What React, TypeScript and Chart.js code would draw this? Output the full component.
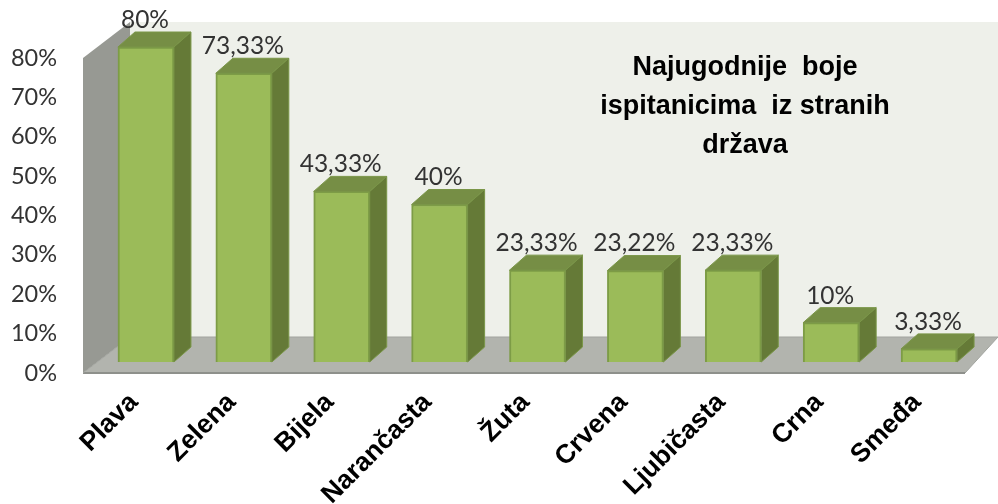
import React, { useEffect, useRef } from "react";
import { Chart, registerables } from "chart.js";

Chart.register(...registerables);

const categories = ["Plava", "Zelena", "Bijela", "Narančasta", "Žuta", "Crvena", "Ljubičasta", "Crna", "Smeđa"];
const values = [80, 73.33, 43.33, 40, 23.33, 23.22, 23.33, 10, 3.33];
const yTicks = [0, 10, 20, 30, 40, 50, 60, 70, 80];
const titleLines = ["Najugodnije  boje", "ispitanicima  iz stranih", "država"];

const chart3d = {
  id: "chart3d",
  beforeDatasetsDraw(chart: any) {
    const { ctx, chartArea, scales } = chart;
    const y0 = scales.y.getPixelForValue(0);
    const yMax = scales.y.getPixelForValue(80);
    const frontL = chartArea.left - 14;
    const backL = frontL + 47;
    const frontB = y0 + 11;
    const backB = frontB - 36;
    const frontT = yMax + 11;
    const backT = frontT - 36;
    const W = chart.width;
    const frontR = 965;
    const poly = (pts: number[][], fill: any) => {
      ctx.beginPath();
      pts.forEach((p, i) => (i ? ctx.lineTo(p[0], p[1]) : ctx.moveTo(p[0], p[1])));
      ctx.closePath();
      ctx.fillStyle = fill;
      ctx.fill();
    };
    ctx.save();
    poly([[backL, backT], [W, backT], [W, backB], [backL, backB]], "#eef0ea");
    poly([[frontL, frontT], [backL, backT], [backL, backB], [frontL, frontB]], "#979993");
    poly([[frontL, frontB], [frontR, frontB], [W, backB], [backL, backB]], "#b2b4ae");
    ctx.strokeStyle = "#8e908b";
    ctx.lineWidth = 2;
    ctx.beginPath();
    ctx.moveTo(frontL, frontB);
    ctx.lineTo(frontR, frontB);
    ctx.stroke();
    ctx.lineWidth = 1;
    ctx.strokeStyle = "#a2a49f";
    ctx.beginPath();
    ctx.moveTo(frontR, frontB);
    ctx.lineTo(W, backB);
    ctx.moveTo(frontL, frontB);
    ctx.lineTo(backL, backB);
    ctx.lineTo(W, backB);
    ctx.stroke();
    ctx.restore();
  },
  afterDatasetsDraw(chart: any) {
    const { ctx } = chart;
    const bars = chart.getDatasetMeta(0).data;
    const dx = 17;
    const dy = 15;
    ctx.save();
    bars.forEach((bar: any, i: number) => {
      const { x, y, base, width } = bar.getProps(["x", "y", "base", "width"], true);
      const l = x - width / 2;
      const r = x + width / 2;
      ctx.strokeStyle = "#7a9648";
      ctx.lineWidth = 1;
      ctx.beginPath();
      ctx.moveTo(l, y);
      ctx.lineTo(l + dx, y - dy);
      ctx.lineTo(r + dx, y - dy);
      ctx.lineTo(r, y);
      ctx.closePath();
      ctx.fillStyle = "#768e45";
      ctx.fill();
      ctx.stroke();
      ctx.beginPath();
      ctx.moveTo(r, y);
      ctx.lineTo(r + dx, y - dy);
      ctx.lineTo(r + dx, base - dy);
      ctx.lineTo(r, base);
      ctx.closePath();
      ctx.fillStyle = "#657a37";
      ctx.fill();
      ctx.stroke();

      ctx.fillStyle = "#333";
      ctx.font = "24.5px Lato";
      ctx.textAlign = "center";
      ctx.textBaseline = "middle";
      ctx.fillText(String(values[i]).replace(".", ",") + "%", x - 1, y - 27);
    });
    ctx.fillStyle = "#000";
    ctx.font = "bold 27px 'Liberation Sans'";
    ctx.textAlign = "center";
    ctx.textBaseline = "middle";
    titleLines.forEach((t, i) => ctx.fillText(t, 745, 68 + i * 39));
    ctx.restore();
  },
};

export default function App() {
  const ref = useRef<HTMLCanvasElement>(null);
  useEffect(() => {
    const chart = new Chart(ref.current!, {
      type: "bar",
      data: {
        labels: categories,
        datasets: [
          {
            data: values,
            backgroundColor: "#9bbb59",
            borderColor: "#7d9c46",
            borderWidth: 2,
            barThickness: 56,
          },
        ],
      },
      options: {
        responsive: false,
        animation: false,
        layout: { padding: { top: 47, right: 20, left: 0, bottom: 0 } },
        plugins: { legend: { display: false }, tooltip: { enabled: false }, title: { display: false } },
        scales: {
          x: {
            grid: { display: false, drawTicks: false },
            border: { display: false },
            afterFit: (s: any) => {
              s.height = 142;
            },
            ticks: {
              autoSkip: false,
              minRotation: 45,
              maxRotation: 45,
              padding: 25,
              labelOffset: -12,
              color: "#000",
              font: { family: "'Liberation Sans'", size: 26.5, weight: "bold" },
            },
          },
          y: {
            min: 0,
            max: 80,
            grid: { display: false, drawTicks: false },
            border: { display: false },
            afterFit: (s: any) => {
              s.width = 97;
              s.paddingTop = 0;
              s.paddingBottom = 0;
            },
            afterBuildTicks: (s: any) => {
              s.ticks = yTicks.map((value) => ({ value }));
            },
            ticks: {
              padding: 40,
              labelOffset: 11,
              color: "#333",
              font: { family: "Lato", size: 23.5 },
              callback: (v: any) => v + "%",
            },
          },
        },
      },
      plugins: [chart3d],
    } as any);
    return () => chart.destroy();
  }, []);
  return (
    <canvas
      ref={ref}
      width={998}
      height={504}
      style={{ position: "absolute", left: 0, top: 0, display: "block", background: "#fff" }}
    />
  );
}
